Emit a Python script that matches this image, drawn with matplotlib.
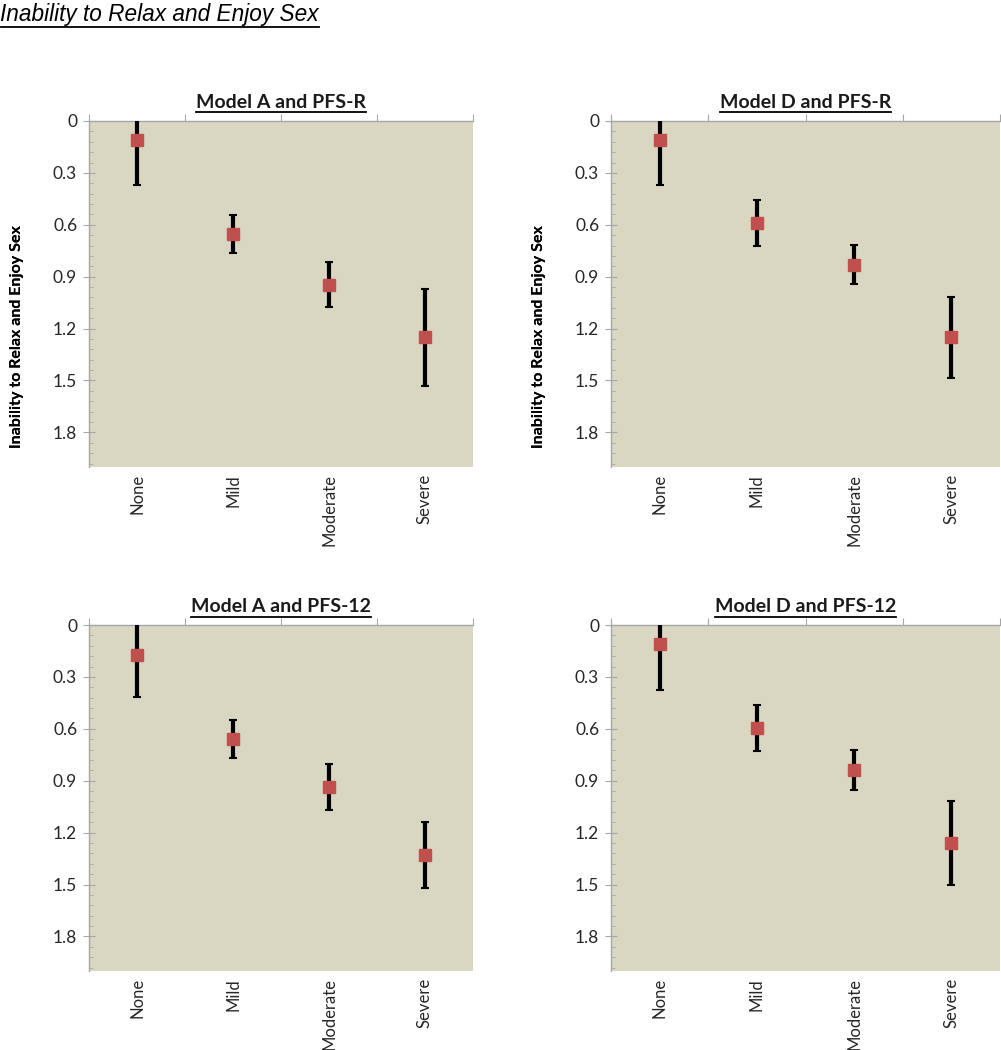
import matplotlib
matplotlib.use("Agg")
import matplotlib.pyplot as plt
from matplotlib.ticker import MultipleLocator, FixedLocator
from matplotlib.lines import Line2D

categories = ["None", "Mild", "Moderate", "Severe"]

titles = ["Model A and PFS-R", "Model D and PFS-R", "Model A and PFS-12", "Model D and PFS-12"]
means_a_r = [0.11, 0.652, 0.946, 1.25]
err_a_r = [0.26, 0.11, 0.13, 0.28]
means_d_r = [0.11, 0.59, 0.83, 1.25]
err_d_r = [0.26, 0.135, 0.115, 0.235]
means_a_12 = [0.174, 0.66, 0.936, 1.33]
err_a_12 = [0.24, 0.11, 0.135, 0.19]
means_d_12 = [0.11, 0.595, 0.84, 1.26]
err_d_12 = [0.265, 0.135, 0.115, 0.24]
y_ticks = [0, 0.3, 0.6, 0.9, 1.2, 1.5, 1.8]
y_label = "Inability to Relax and Enjoy Sex"
page_title = "Inability to Relax and Enjoy Sex"

series = [(means_a_r, err_a_r), (means_d_r, err_d_r), (means_a_12, err_a_12), (means_d_12, err_d_12)]

W, H = 1001, 1050
fig = plt.figure(figsize=(W / 100, H / 100), dpi=100)
fig.patch.set_facecolor("white")

# axes boxes in pixels: left, top, right, bottom
boxes = [(89, 121, 473, 467), (611, 121, 1000, 467),
         (89, 625, 473, 971), (611, 625, 1000, 971)]

BG = "#d9d7c1"
MARK = "#c0504d"
GRAY = "#a6a6a6"
FONT = "Lato"

axes = []
for (l, t, r, b), title, (m, e) in zip(boxes, titles, series):
    ax = fig.add_axes([l / W, 1 - b / H, (r - l) / W, (b - t) / H])
    ax.set_facecolor(BG)
    x = list(range(len(categories)))
    ax.errorbar(x, m, yerr=e, fmt="s", color=MARK, markersize=8,
                markeredgecolor=MARK, ecolor="black", elinewidth=3,
                capsize=3, capthick=1.5, zorder=3)
    ax.set_xlim(-0.5, len(categories) - 0.5)
    ax.set_ylim(2.0, 0)
    ax.yaxis.set_major_locator(FixedLocator(y_ticks))
    ax.yaxis.set_minor_locator(MultipleLocator(0.06))
    ax.set_yticklabels([f"{v:g}" for v in y_ticks], fontfamily=FONT, fontsize=12.5, color="#262626")
    ax.tick_params(axis="y", which="major", direction="inout", length=9, width=0.8, color=GRAY, pad=4)
    ax.tick_params(axis="y", which="minor", direction="in", length=3, width=0.6, color=GRAY)
    ax.set_xticks(x)
    ax.set_xticklabels(categories, rotation=90, fontfamily=FONT, fontsize=12, color="#262626")
    ax.tick_params(axis="x", which="major", length=0, pad=5)
    ax.xaxis.set_minor_locator(FixedLocator([-0.5, 0.5, 1.5, 2.5, 3.5]))
    ax.tick_params(axis="x", which="minor", bottom=False, top=True, direction="out",
                   length=5, width=0.8, color=GRAY)
    for s in ["right", "bottom"]:
        ax.spines[s].set_visible(False)
    for s in ["left", "top"]:
        ax.spines[s].set_color(GRAY)
        ax.spines[s].set_linewidth(1.0)
    ax.set_title(title, fontfamily=FONT, fontweight="bold", fontsize=14, pad=9, color="#1a1a1a")
    ax.set_ylabel(y_label, fontfamily=FONT, fontweight="bold", fontsize=11.5, color="black")
    ax.yaxis.set_label_coords(-65 / (r - l), 1 - (337 - t) / (b - t))
    axes.append(ax)

pt = fig.text(0.5 / W, 1 - 3 / H, page_title, fontfamily="Liberation Sans", fontstyle="italic",
              fontsize=16.3, va="top", ha="left", color="black")

fig.canvas.draw()
renderer = fig.canvas.get_renderer()

def underline(txt, offset_px=2, lw=1.2):
    bb = txt.get_window_extent(renderer=renderer)
    y = bb.y0 - offset_px
    fig.add_artist(Line2D([bb.x0 / W, bb.x1 / W], [y / H, y / H], transform=fig.transFigure,
                          color="black", linewidth=lw))

underline(pt, offset_px=1, lw=1.3)
for ax in axes:
    underline(ax.title, offset_px=1, lw=1.3)

fig.savefig("out.png", dpi=100, facecolor="white")
